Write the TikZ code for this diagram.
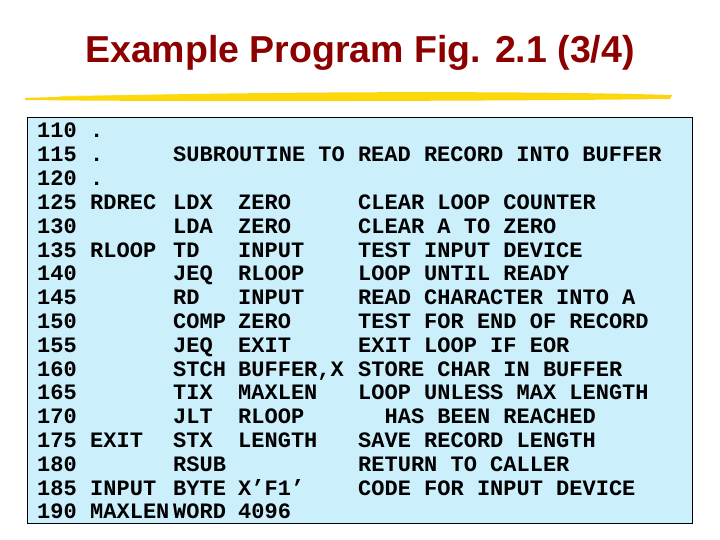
\documentclass[tikz,border=0pt]{standalone}
\usepackage{fontspec}
\setmonofont{Liberation Mono}
\setsansfont{Liberation Sans}
\begin{document}
\begin{tikzpicture}[x=1pt,y=-1pt,
  code/.style={anchor=base west,inner sep=0pt,font=\ttfamily\bfseries\fontsize{22}{22}\selectfont}]
\useasboundingbox (0,0) rectangle (720,540);
\fill[white] (0,0) rectangle (720,540);
\node[font=\sffamily\bfseries\fontsize{37.5}{40}\selectfont,text=red!55!black,anchor=base] (title) at (360,63) {Example Program Fig. 2.1 (3/4)};
\fill[yellow!70!orange!95!white] (25,98) .. controls (200,92) and (500,90) .. (672,95) -- (670,99) .. controls (500,101) and (200,102) .. (25,100) -- cycle;
\fill[yellow!80!orange,opacity=0.7] (60,96) .. controls (250,93) and (450,93) .. (640,96) -- (640,98) .. controls (450,99) and (250,99) .. (60,99) -- cycle;
\node[draw=black,line width=0.8pt,fill=cyan!20!white,minimum width=665,minimum height=406,anchor=north west,inner sep=0pt] (box) at (27,117) {};
\foreach \n/\l/\o/\a/\c [count=\i from 0] in {
110/./{}/{}/{},
115/./{}/{}/{},
120/./{}/{}/{},
125/RDREC/LDX/ZERO/CLEAR LOOP COUNTER,
130/{}/LDA/ZERO/CLEAR A TO ZERO,
135/RLOOP/TD/INPUT/TEST INPUT DEVICE,
140/{}/JEQ/RLOOP/LOOP UNTIL READY,
145/{}/RD/INPUT/READ CHARACTER INTO A,
150/{}/COMP/ZERO/TEST FOR END OF RECORD,
155/{}/JEQ/EXIT/EXIT LOOP IF EOR,
160/{}/STCH/{BUFFER,X}/STORE CHAR IN BUFFER,
165/{}/TIX/MAXLEN/LOOP UNLESS MAX LENGTH,
170/{}/JLT/RLOOP/\ \ HAS BEEN REACHED,
175/EXIT/STX/LENGTH/SAVE RECORD LENGTH,
180/{}/RSUB/{}/RETURN TO CALLER,
185/INPUT/BYTE/X’F1’/CODE FOR INPUT DEVICE,
190/MAXLEN/WORD/4096/{}}{
  \pgfmathsetmacro\yy{138+23.8*\i}
  \node[code] (n\i) at (37,\yy) {\n};
  \node[code] (l\i) at (90,\yy) {\l};
  \node[code] (o\i) at (173,\yy) {\o};
  \node[code] (a\i) at (238,\yy) {\a};
  \node[code] (c\i) at (358,\yy) {\c};
}
\node[code] (sub) at (173,138+23.8) {SUBROUTINE TO READ RECORD INTO BUFFER};
\end{tikzpicture}
\end{document}
